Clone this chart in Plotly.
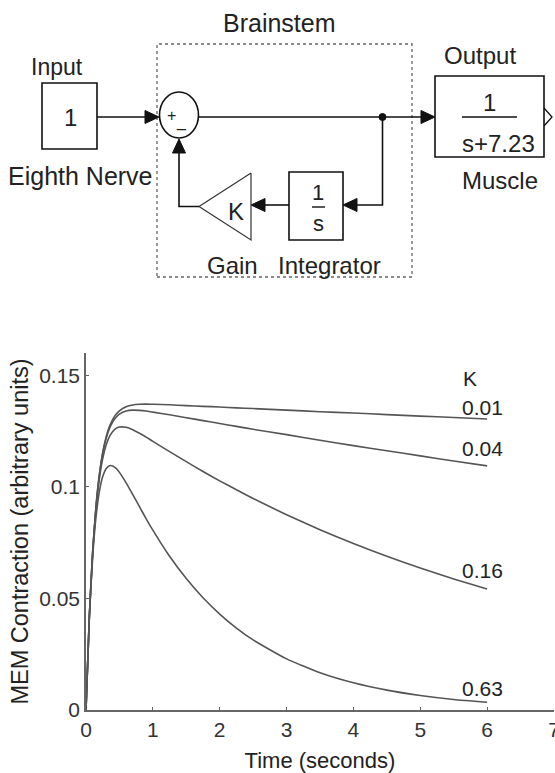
import plotly.graph_objects as go

# ---------------- data ----------------
time_s = [0, 0.05, 0.1, 0.15, 0.2, 0.25, 0.3, 0.35, 0.4, 0.45, 0.5, 0.6, 0.7, 0.8, 0.9,
          1.0, 1.25, 1.5, 1.75, 2.0, 2.25, 2.5, 3.0, 3.5, 4.0, 4.5, 5.0, 5.5, 6.0]
k_labels = ["0.01", "0.04", "0.16", "0.63"]
mem_k001 = [0, 0.0420, 0.0712, 0.0915, 0.1056, 0.1154, 0.1223, 0.1270, 0.1303, 0.1325,
            0.1341, 0.1359, 0.1367, 0.1370, 0.1371, 0.1370, 0.1368, 0.1364, 0.1361,
            0.1358, 0.1354, 0.1351, 0.1344, 0.1337, 0.1331, 0.1324, 0.1317, 0.1311, 0.1304]
mem_k004 = [0, 0.0419, 0.0710, 0.0912, 0.1052, 0.1149, 0.1215, 0.1261, 0.1292, 0.1312,
            0.1326, 0.1340, 0.1344, 0.1343, 0.1340, 0.1335, 0.1323, 0.1310, 0.1297,
            0.1284, 0.1271, 0.1258, 0.1234, 0.1209, 0.1185, 0.1162, 0.1139, 0.1116, 0.1094]
mem_k016 = [0, 0.0418, 0.0706, 0.0903, 0.1037, 0.1127, 0.1186, 0.1225, 0.1248, 0.1262,
            0.1268, 0.1267, 0.1256, 0.1240, 0.1223, 0.1204, 0.1158, 0.1113, 0.1069,
            0.1027, 0.0987, 0.0948, 0.0875, 0.0808, 0.0746, 0.0689, 0.0636, 0.0587, 0.0542]
mem_k063 = [0, 0.0413, 0.0687, 0.0866, 0.0979, 0.1046, 0.1081, 0.1095, 0.1094, 0.1083,
            0.1065, 0.1018, 0.0965, 0.0911, 0.0857, 0.0806, 0.0689, 0.0589, 0.0503,
            0.0430, 0.0367, 0.0314, 0.0229, 0.0167, 0.0122, 0.0089, 0.0065, 0.0047, 0.0035]
x_ticks = [0, 1, 2, 3, 4, 5, 6, 7]
y_ticks = [0, 0.05, 0.1, 0.15]
y_tick_text = ["0", "0.05", "0.1", "0.15"]

series = [mem_k001, mem_k004, mem_k016, mem_k063]
label_shift = [12, 17, 19, 14]

W, H = 555, 773
ML, MR, MT, MB = 86, 1, 353, 63
PW, PH = W - ML - MR, H - MT - MB
FONT = "Liberation Sans, Arial, sans-serif"
TXT = "#222222"
LINE = "#111111"

fig = go.Figure()
for ys in series:
    fig.add_trace(go.Scatter(x=time_s, y=ys, mode="lines",
                             line=dict(color="#555555", width=1.6, shape="spline", smoothing=0.5),
                             showlegend=False, hoverinfo="skip"))

# curve labels
for lab, ys, sh in zip(k_labels, series, label_shift):
    fig.add_annotation(x=time_s[-1], y=ys[-1], xref="x", yref="y", text=lab,
                       showarrow=False, xanchor="left", yanchor="middle",
                       xshift=-27, yshift=sh, font=dict(family=FONT, size=21, color=TXT))
fig.add_annotation(x=time_s[-1], y=mem_k001[-1], xref="x", yref="y", text="K",
                   showarrow=False, xanchor="left", yanchor="middle",
                   xshift=-26, yshift=41, font=dict(family=FONT, size=21, color=TXT))

# ---------------- block diagram (pixel helpers -> paper coords) ----------------
def px(x):
    return (x - ML) / PW

def py(y):
    return (MT + PH - y) / PH

def path(points, close=True):
    s = "M " + " L ".join(f"{px(a):.5f},{py(b):.5f}" for a, b in points)
    return s + (" Z" if close else "")

shapes = []

def line(points, width=1.6, color=LINE, dash="solid"):
    shapes.append(dict(type="path", path=path(points, close=False), xref="paper", yref="paper",
                       line=dict(color=color, width=width, dash=dash)))

def rect(x0, y0, x1, y1, width=1.6, color=LINE, dash="solid"):
    shapes.append(dict(type="rect", xref="paper", yref="paper", x0=px(x0), x1=px(x1),
                       y0=py(y1), y1=py(y0), line=dict(color=color, width=width, dash=dash)))

def arrow_head(tipx, tipy, direction, length=14, half=6.5):
    if direction == "right":
        pts = [(tipx, tipy), (tipx - length, tipy - half), (tipx - length, tipy + half)]
    elif direction == "left":
        pts = [(tipx, tipy), (tipx + length, tipy - half), (tipx + length, tipy + half)]
    else:  # up
        pts = [(tipx, tipy), (tipx - half, tipy + length), (tipx + half, tipy + length)]
    shapes.append(dict(type="path", path=path(pts), xref="paper", yref="paper",
                       fillcolor=LINE, line=dict(color=LINE, width=1)))

def text(x, y, s, size=24):
    fig.add_annotation(x=px(x), y=py(y), xref="paper", yref="paper", text=s, showarrow=False,
                       xanchor="center", yanchor="middle",
                       font=dict(family=FONT, size=size, color=TXT))

# dotted brainstem box
rect(157, 44, 412, 277, width=1.3, color="#666666", dash="dot")
# input block
rect(42, 83, 97, 149)
line([(97, 117), (147, 117)])
arrow_head(159, 117, "right")
# sum junction
shapes.append(dict(type="circle", xref="paper", yref="paper", x0=px(159.5), x1=px(198.5),
                   y0=py(138), y1=py(92), line=dict(color=LINE, width=1.6)))
# forward path
line([(198, 117), (423, 117)])
arrow_head(435, 117, "right")
shapes.append(dict(type="circle", xref="paper", yref="paper", x0=px(379), x1=px(386),
                   y0=py(120.5), y1=py(113.5), fillcolor=LINE, line=dict(color=LINE, width=1)))
# feedback path
line([(382.5, 117), (382.5, 205), (355, 205)])
arrow_head(343, 205, "left")
rect(289, 172, 343, 240)
line([(312, 207), (325, 207)], width=1.4)
line([(289, 205), (263, 205)])
arrow_head(251, 205, "left")
line([(251, 173), (251, 240), (199, 206.5), (251, 173)], width=1.2, color="#333333")
line([(199, 206.5), (179, 206.5), (179, 151)])
arrow_head(179, 139, "up")
# output block
rect(435, 76, 544, 157)
line([(462, 117), (517, 117)], width=1.4)
line([(544, 108), (552, 117), (544, 126)], width=1.3)

text(279, 23, "Brainstem", 25)
text(57, 67, "Input", 23)
text(70, 118, "1", 24)
text(80, 176, "Eighth Nerve", 25)
text(171, 116, "+", 16)
text(181, 122, "_", 16)
text(236, 211, "K", 24)
text(318, 192, "1", 22)
text(318, 223, "s", 22)
text(232, 265, "Gain", 24)
text(329, 265, "Integrator", 24)
text(480, 55, "Output", 24)
text(489, 102, "1", 24)
text(498, 143, "s+7.23", 24)
text(500, 181, "Muscle", 24)

fig.update_layout(
    width=W, height=H, margin=dict(l=ML, r=MR, t=MT, b=MB, autoexpand=False),
    paper_bgcolor="white", plot_bgcolor="white", shapes=shapes,
    font=dict(family=FONT, size=21, color=TXT),
    xaxis=dict(range=[0, 7], tickvals=x_ticks, ticks="inside", ticklen=3, tickcolor="#666666",
               showline=True, linecolor="#666666", linewidth=1.5, showgrid=False, zeroline=False,
               ticklabeloverflow="allow",
               tickfont=dict(family=FONT, size=21, color="#333333"),
               title=dict(text="Time (seconds)", font=dict(family=FONT, size=22, color=TXT),
                          standoff=14)),
    yaxis=dict(range=[0, 0.16], tickvals=y_ticks, ticktext=y_tick_text, ticks="inside",
               ticklen=3, tickcolor="#666666", showline=True, linecolor="#666666", linewidth=1.5,
               showgrid=False, zeroline=False,
               tickfont=dict(family=FONT, size=21, color="#333333"),
               title=dict(text="MEM Contraction (arbitrary units)",
                          font=dict(family=FONT, size=23.5, color=TXT), standoff=4)),
)

fig.write_html("out.html")
